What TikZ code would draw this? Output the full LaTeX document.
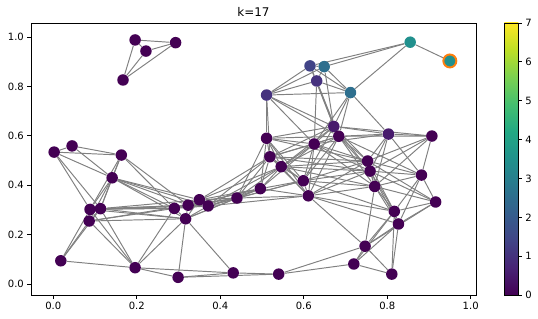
\documentclass[tikz,border=0pt]{standalone}
\usepackage{fontspec}
\setmainfont{DejaVu Sans}
\usepackage{xcolor}
\usepackage{tikz}
\usetikzlibrary{backgrounds}

% viridis stops
\definecolor{v0}{HTML}{440154}
\definecolor{v1}{HTML}{482475}
\definecolor{v2}{HTML}{414487}
\definecolor{v3}{HTML}{355F8D}
\definecolor{v4}{HTML}{2A788E}
\definecolor{v5}{HTML}{21918C}
\definecolor{v6}{HTML}{22A884}
\definecolor{v7}{HTML}{44BF70}
\definecolor{v8}{HTML}{7AD151}
\definecolor{v9}{HTML}{BDDF26}
\definecolor{v10}{HTML}{FDE725}
% node colours
\definecolor{c0}{HTML}{440154}
\definecolor{c1}{HTML}{481B6D}
\definecolor{c2}{HTML}{46327E}
\definecolor{c3}{HTML}{414487}
\definecolor{c4}{HTML}{2E6F8E}
\definecolor{c5}{HTML}{21908D}
\definecolor{ringorange}{HTML}{FF7F0E}
\definecolor{edgegray}{HTML}{808080}

\pgfdeclareverticalshading{viridis}{100bp}{color(0bp)=(v0); color(25bp)=(v0);
  color(30bp)=(v1); color(35bp)=(v2); color(40bp)=(v3); color(45bp)=(v4);
  color(50bp)=(v5); color(55bp)=(v6); color(60bp)=(v7); color(65bp)=(v8);
  color(70bp)=(v9); color(75bp)=(v10); color(100bp)=(v10)}

\newcommand\tickfont{\fontsize{5.7pt}{7pt}\selectfont}
\newcommand\titlefont{\fontsize{6.8pt}{8pt}\selectfont}

\tikzset{
  vtx/.style   = {circle, inner sep=0pt, minimum size=2.3mm},
  src/.style   = {circle, inner sep=0pt, minimum size=2.6mm, fill=c5,
                  draw=ringorange, line width=1.1pt},
  edg/.style   = {draw=edgegray, line width=0.55pt},
  tck/.style   = {line width=0.45pt},
  tlbl/.style  = {font=\tickfont, inner sep=1pt},
}

% name/x/y/colour
\def\nodelist{A1/0.196/0.988/c0, A2/0.222/0.943/c0, A3/0.293/0.977/c0, A4/0.167/0.826/c0,
P1/0.615/0.883/c3, P2/0.649/0.880/c4, P3/0.631/0.822/c2, P4/0.511/0.765/c2,
Q1/0.855/0.979/c5, Q2/0.950/0.903/c5, Q3/0.712/0.775/c4,
R1/0.672/0.638/c1, R2/0.684/0.598/c0, R3/0.803/0.607/c1, R4/0.907/0.599/c0,
L1/0.002/0.534/c0, L2/0.045/0.559/c0, L3/0.163/0.522/c0, L4/0.141/0.430/c0,
L5/0.088/0.302/c0, L6/0.113/0.305/c0, L7/0.086/0.255/c0, L8/0.290/0.306/c0,
L9/0.323/0.319/c0, L10/0.350/0.341/c0, L11/0.371/0.316/c0, L12/0.317/0.264/c0, L13/0.440/0.348/c0,
C1/0.511/0.590/c0, C2/0.519/0.515/c0, C3/0.546/0.475/c0, C4/0.625/0.567/c0,
C5/0.599/0.418/c0, C6/0.611/0.357/c0, C7/0.496/0.386/c0,
D1/0.753/0.498/c0, D2/0.759/0.457/c0, D3/0.770/0.395/c0, D4/0.882/0.441/c0, D5/0.916/0.332/c0,
D6/0.817/0.294/c0, D7/0.827/0.243/c0, D8/0.747/0.153/c0, D9/0.720/0.081/c0, D10/0.811/0.040/c0,
B1/0.018/0.094/c0, B2/0.196/0.066/c0, B3/0.299/0.027/c0, B4/0.431/0.045/c0, B5/0.540/0.040/c0}

\begin{document}
\begin{tikzpicture}
  \useasboundingbox (0,0) rectangle (10.76,6.38);

  \node[font=\titlefont] (title) at (5.07,6.14) {k=17};

  \begin{scope}[shift={(1.066,0.70)}, x=8.348cm, y=4.94cm]
    % --- axes ---
    \draw[tck] (-0.0534,-0.0445) rectangle (1.0127,1.0555);
    \foreach \v in {0.0,0.2,0.4,0.6,0.8,1.0} {
      \draw[tck] (\v,-0.0445) -- ++(0,-0.08cm)
        node[tlbl, anchor=north, yshift=-0.02cm] {\v};
      \draw[tck] (-0.0534,\v) -- ++(-0.08cm,0)
        node[tlbl, anchor=east, xshift=-0.02cm] {\v};
    }

    % --- nodes ---
    \foreach \n/\x/\y/\c in \nodelist
      \node[vtx, fill=\c] (\n) at (\x,\y) {};
    \node[src] (ring) at (Q2) {};

    % --- edges: pairs closer than r = 0.26 ---
    \begin{scope}[on background layer]
      \foreach \na/\xa/\ya/\ca [count=\i] in \nodelist {
        \foreach \nb/\xb/\yb/\cb [count=\j] in \nodelist {
          \ifnum\j>\i
            \pgfmathtruncatemacro\isedge{((\xa-\xb)^2+(\ya-\yb)^2)<0.0676}
            \ifnum\isedge=1 \draw[edg] (\na) -- (\nb); \fi
          \fi
        }
      }
    \end{scope}
  \end{scope}

  % --- colour bar ---
  \shade[shading=viridis] (10.086,0.48) rectangle (10.366,5.92);
  \draw[tck] (10.086,0.48) rectangle (10.366,5.92);
  \foreach \v in {0,...,7}
    \draw[tck] (10.366,{0.48+\v*0.7771}) -- ++(0.08,0)
      node[tlbl, anchor=west, xshift=0.02cm] {\v};
\end{tikzpicture}
\end{document}
